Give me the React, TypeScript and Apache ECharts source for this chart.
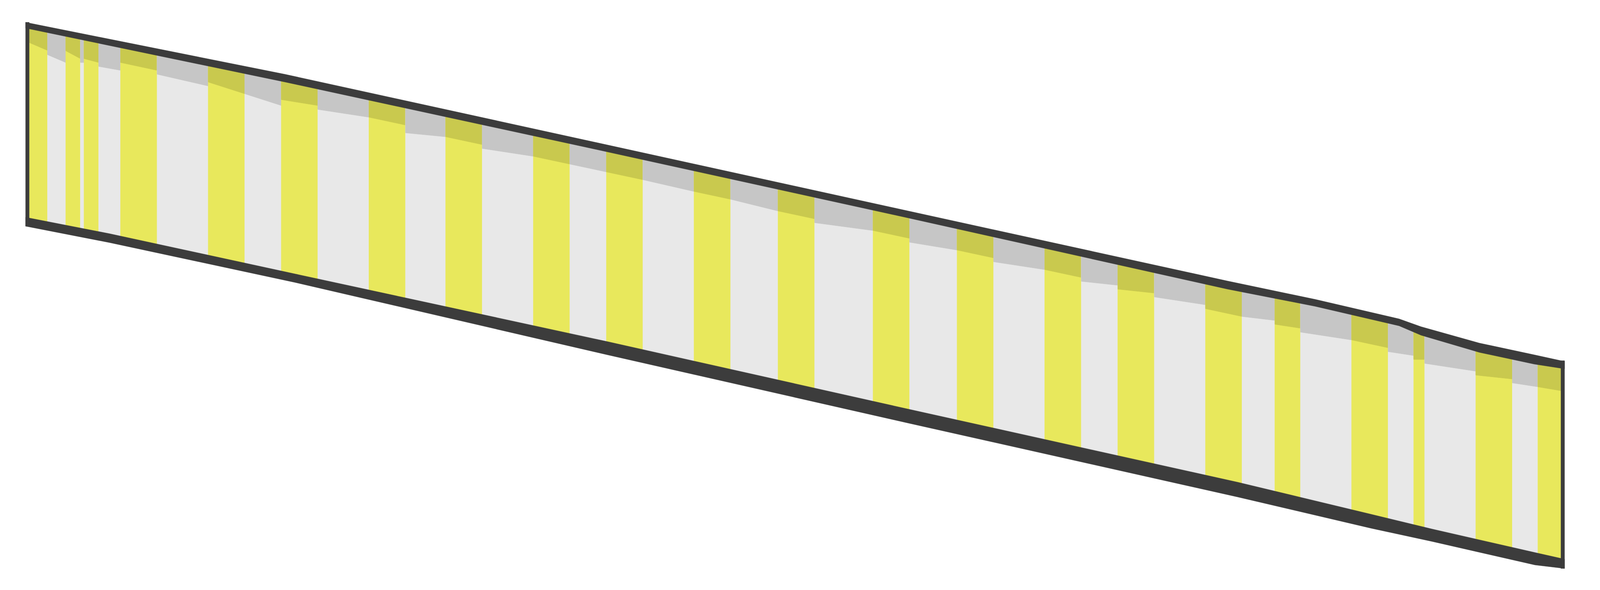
import React, { useEffect, useRef } from "react";
import * as echarts from "echarts";

// Units: 1 unit = 10 px of the picture (x to the right, y downwards).
// Stripe boundaries along x.
const stripeEdges = [8, 13, 18, 22, 23, 27, 33, 43, 57, 67, 77, 87, 101, 111, 122, 132, 146, 156, 166, 176, 190, 200, 213, 223, 239, 249, 262, 272, 286, 296, 306, 316, 330, 340, 349, 356, 370, 380, 387, 390, 404, 414, 421, 427.3];
const stripeKind = ["yellow", "gray", "yellow", "gray", "yellow", "gray", "yellow", "gray", "yellow", "gray", "yellow", "gray", "yellow", "gray", "yellow", "gray", "yellow", "gray", "yellow", "gray", "yellow", "gray", "yellow", "gray", "yellow", "gray", "yellow", "gray", "yellow", "gray", "yellow", "gray", "yellow", "gray", "yellow", "gray", "yellow", "gray", "yellow", "gray", "yellow", "gray", "yellow"];
// Lower edge of the darker cap of each stripe, at its start and at its end.
const capStart = [10.9, 14, 13, 16, 15, 17, 16, 19, 21, 24, 25.5, 28, 30, 34, 35, 38, 40, 42, 44, 46, 49, 51, 54, 57, 59, 62, 64, 67, 69, 72, 74, 76, 79, 81, 83, 85, 87, 90, 92, 93, 96, 98, 99];
const capEnd = [12.9, 16, 15, 16, 16, 18, 18, 22, 24, 27, 27, 30, 32, 35, 37, 40, 42, 44, 46, 49, 51, 54, 56, 59, 61, 64, 66, 69, 71, 73, 75, 78, 81, 82, 84, 87, 89, 91, 92, 95, 97, 99, 100];

// Top outline: upper and lower edge of the dark line.
const topX = [7, 78, 160, 248.2, 336, 360, 383, 389, 405, 420, 428.3];
const topUpper = [5.7, 19.0, 35.8, 53.9, 71.9, 76.6, 81.6, 83.6, 87.8, 90.8, 92.5];
const topLower = [7.2, 21.0, 37.6, 55.7, 74.0, 78.4, 83.4, 85.8, 90.2, 93.2, 94.4];

// Bottom outline: upper and lower edge of the dark line.
const botX = [7, 30, 80.8, 166.2, 248.2, 338.8, 375.3, 392.1, 420.2, 428.3];
const botUpper = [55.6, 59.8, 70.1, 87.4, 104.6, 123.4, 131.6, 135.4, 141.4, 143.1];
const botLower = [57.9, 62.1, 72.3, 90.8, 108.2, 127.2, 135.2, 138.6, 144.6, 145.5];

// Vertical borders (x extent).
const leftBorder = [7, 8];
const rightBorder = [427.3, 428.3];

const COLORS: Record<string, { body: string; cap: string }> = {
  yellow: { body: "#E8E85C", cap: "#C9C94E" },
  gray: { body: "#E8E8E8", cap: "#C6C6C6" },
};
const LINE = "#3C3C3C";

function interp(xs: number[], ys: number[], x: number) {
  if (x <= xs[0]) {
    const s = (ys[1] - ys[0]) / (xs[1] - xs[0]);
    return ys[0] + s * (x - xs[0]);
  }
  for (let i = 0; i < xs.length - 1; i++) {
    if (x <= xs[i + 1]) {
      const t = (x - xs[i]) / (xs[i + 1] - xs[i]);
      return ys[i] + t * (ys[i + 1] - ys[i]);
    }
  }
  const n = xs.length - 1;
  const s = (ys[n] - ys[n - 1]) / (xs[n] - xs[n - 1]);
  return ys[n] + s * (x - xs[n]);
}

const topC = (x: number) => (interp(topX, topUpper, x) + interp(topX, topLower, x)) / 2;
const botC = (x: number) => (interp(botX, botUpper, x) + interp(botX, botLower, x)) / 2;

export default function App() {
  const ref = useRef<HTMLDivElement>(null);
  useEffect(() => {
    if (!ref.current) return;
    const chart = echarts.init(ref.current, undefined, { renderer: "svg" });

    const stripeData = stripeKind.map((k, i) => [
      stripeEdges[i],
      stripeEdges[i + 1],
      capStart[i],
      capEnd[i],
      k === "yellow" ? 0 : 1,
    ]);

    chart.setOption({
      animation: false,
      backgroundColor: "#FFFFFF",
      grid: { left: 0, right: 0, top: 0, bottom: 0 },
      xAxis: { type: "value", min: 0, max: 438, show: false },
      yAxis: { type: "value", min: 0, max: 151, inverse: true, show: false },
      series: [
        {
          type: "custom",
          data: stripeData,
          encode: { x: [0, 1], y: [2, 3] },
          renderItem: (params: any, api: any) => {
            const x0 = api.value(0);
            const x1 = api.value(1);
            const c0 = api.value(2);
            const c1 = api.value(3);
            const col = api.value(4) === 0 ? COLORS.yellow : COLORS.gray;
            const tx = [x0, ...topX.filter((v) => v > x0 && v < x1), x1];
            const bx = [x0, ...botX.filter((v) => v > x0 && v < x1), x1].reverse();
            const topPts = tx.map((x) => api.coord([x, topC(x)]));
            const body = [...topPts, ...bx.map((x) => api.coord([x, botC(x)]))];
            const cap = [...topPts, api.coord([x1, c1]), api.coord([x0, c0])];
            return {
              type: "group",
              children: [
                { type: "polygon", shape: { points: body }, style: { fill: col.body, stroke: col.body, lineWidth: 1 } },
                { type: "polygon", shape: { points: cap }, style: { fill: col.cap, stroke: col.cap, lineWidth: 1 } },
              ],
            };
          },
          z: 1,
        },
        {
          type: "custom",
          data: [[0, 0]],
          encode: { x: 0, y: 1 },
          renderItem: (params: any, api: any) => {
            const band = (xs: number[], up: number[], lo: number[]) => [
              ...xs.map((x, i) => api.coord([x, up[i]])),
              ...xs.map((x, i) => api.coord([x, lo[i]])).reverse(),
            ];
            const lt = topUpper[0];
            const lb = botLower[0];
            const rt = interp(topX, topUpper, rightBorder[0]);
            const rb = interp(botX, botLower, rightBorder[1]);
            const style = { fill: LINE, stroke: LINE, lineWidth: 0.5 };
            return {
              type: "group",
              children: [
                { type: "polygon", shape: { points: band(topX, topUpper, topLower) }, style },
                { type: "polygon", shape: { points: band(botX, botUpper, botLower) }, style },
                {
                  type: "polygon",
                  shape: {
                    points: [
                      api.coord([leftBorder[0], lt]),
                      api.coord([leftBorder[1], lt]),
                      api.coord([leftBorder[1], lb]),
                      api.coord([leftBorder[0], lb]),
                    ],
                  },
                  style,
                },
                {
                  type: "polygon",
                  shape: {
                    points: [
                      api.coord([rightBorder[0], rt]),
                      api.coord([rightBorder[1], rt]),
                      api.coord([rightBorder[1], rb]),
                      api.coord([rightBorder[0], rb]),
                    ],
                  },
                  style,
                },
              ],
            };
          },
          z: 2,
        },
      ],
    });
    return () => chart.dispose();
  }, []);

  return (
    <div
      ref={ref}
      style={{ position: "fixed", left: 0, top: 0, width: "100vw", height: "100vh", background: "#FFFFFF" }}
    />
  );
}
